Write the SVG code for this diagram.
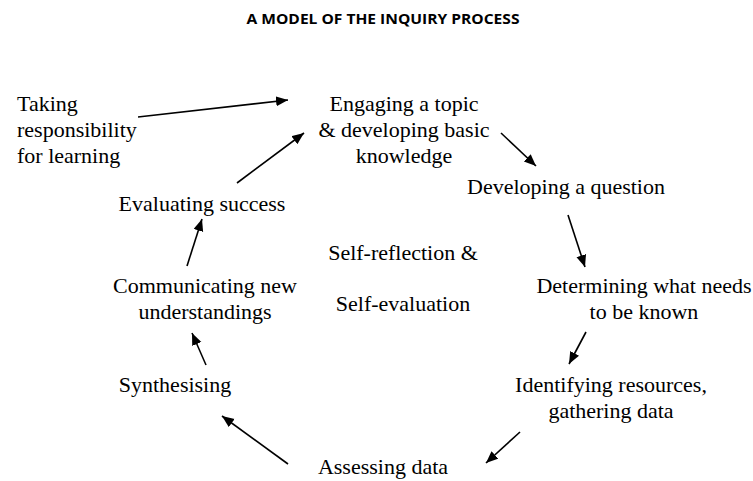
<svg xmlns="http://www.w3.org/2000/svg" width="753" height="481" viewBox="0 0 753 481">
  <style>
    .title { font-family: "Open Sans", "Liberation Sans", sans-serif; font-weight: 700; font-size: 15px; fill: #000; text-anchor: middle; }
    .lbl { font-family: "Liberation Serif", "Times New Roman", serif; font-size: 22px; fill: #000; text-anchor: middle; }
    .left { text-anchor: start; }
    .conn line { stroke: #000; stroke-width: 1.6; }
  </style>
  <defs>
    <!-- solid triangular arrowhead, tip at the line end -->
    <marker id="head" markerUnits="userSpaceOnUse" markerWidth="14" markerHeight="12" refX="12" refY="5" orient="auto">
      <path d="M0,0 L12,5 L0,10 Z" fill="#000"/>
    </marker>
  </defs>
  <rect width="753" height="481" fill="#fff"/>

  <text class="title" x="383" y="24" textLength="273" lengthAdjust="spacingAndGlyphs">A MODEL OF THE INQUIRY PROCESS</text>

  <!-- connectors -->
  <g id="connectors" class="conn">
    <line x1="138" y1="117" x2="288" y2="100" marker-end="url(#head)"/>
    <line x1="237" y1="183" x2="304" y2="133" marker-end="url(#head)"/>
    <line x1="501" y1="133" x2="536" y2="166" marker-end="url(#head)"/>
    <line x1="568" y1="215" x2="585" y2="267" marker-end="url(#head)"/>
    <line x1="586" y1="332" x2="569" y2="364" marker-end="url(#head)"/>
    <line x1="520" y1="432" x2="486" y2="463" marker-end="url(#head)"/>
    <line x1="288" y1="464" x2="222" y2="416" marker-end="url(#head)"/>
    <line x1="206" y1="365" x2="192" y2="333" marker-end="url(#head)"/>
    <line x1="187" y1="266" x2="202" y2="219" marker-end="url(#head)"/>
  </g>

  <!-- nodes -->
  <g id="taking-responsibility">
    <text class="lbl left" x="17" y="111">Taking</text>
    <text class="lbl left" x="17" y="137">responsibility</text>
    <text class="lbl left" x="17" y="163">for learning</text>
  </g>
  <g id="engaging-topic">
    <text class="lbl" x="404" y="111">Engaging a topic</text>
    <text class="lbl" x="404" y="137">&amp; developing basic</text>
    <text class="lbl" x="404" y="163">knowledge</text>
  </g>
  <g id="developing-question">
    <text class="lbl" x="566" y="194">Developing a question</text>
  </g>
  <g id="determining-needs">
    <text class="lbl" x="644" y="293">Determining what needs</text>
    <text class="lbl" x="644" y="319">to be known</text>
  </g>
  <g id="identifying-resources">
    <text class="lbl" x="611" y="392">Identifying resources,</text>
    <text class="lbl" x="611" y="418">gathering data</text>
  </g>
  <g id="assessing-data">
    <text class="lbl" x="383" y="474">Assessing data</text>
  </g>
  <g id="synthesising">
    <text class="lbl" x="175" y="392">Synthesising</text>
  </g>
  <g id="communicating">
    <text class="lbl" x="205" y="293">Communicating new</text>
    <text class="lbl" x="205" y="319">understandings</text>
  </g>
  <g id="evaluating-success">
    <text class="lbl" x="202" y="211">Evaluating success</text>
  </g>
  <g id="self-reflection">
    <text class="lbl" x="403" y="260">Self-reflection &amp;</text>
    <text class="lbl" x="403" y="311">Self-evaluation</text>
  </g>
</svg>
